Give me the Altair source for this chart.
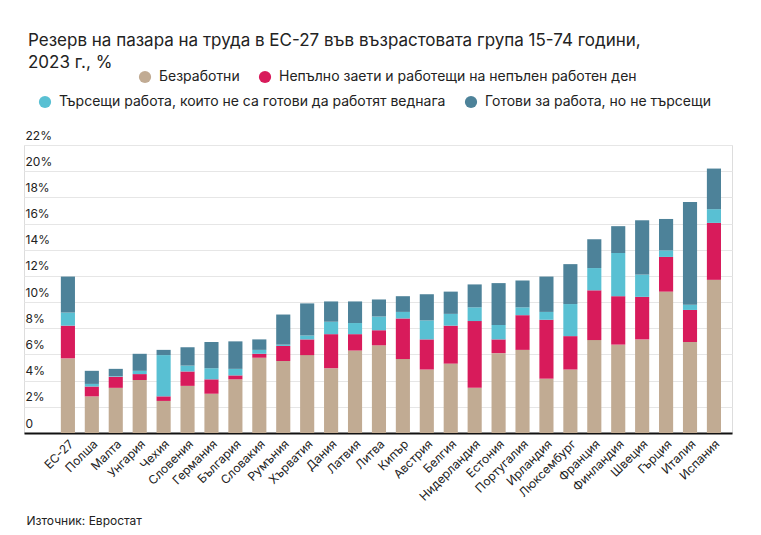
import altair as alt
import pandas as pd

countries = ["ЕС-27", "Полша", "Малта", "Унгария", "Чехия", "Словения", "Германия",
             "България", "Словакия", "Румъния", "Хърватия", "Дания", "Латвия", "Литва",
             "Кипър", "Австрия", "Белгия", "Нидерландия", "Естония", "Португалия",
             "Ирландия", "Люксембург", "Франция", "Финландия", "Швеция", "Гърция",
             "Италия", "Испания"]

unemployed = [5.7, 2.8, 3.45, 4.05, 2.45, 3.6, 3.0, 4.1, 5.75, 5.5, 5.95, 4.95, 6.3, 6.7,
              5.65, 4.85, 5.3, 3.45, 6.1, 6.35, 4.15, 4.85, 7.1, 6.75, 7.15, 10.8, 6.95, 11.7]
underemployed = [2.5, 0.75, 0.85, 0.45, 0.35, 1.1, 1.1, 0.3, 0.3, 1.15, 1.2, 2.6, 1.25, 1.15,
                 3.1, 2.3, 2.9, 5.1, 1.05, 2.65, 4.5, 2.55, 3.8, 3.7, 3.25, 2.65, 2.45, 4.35]
seeking_not_avail = [1.0, 0.2, 0.05, 0.25, 3.15, 0.45, 0.85, 0.5, 0.3, 0.1, 0.3, 0.95, 0.85, 1.05,
                     0.5, 1.45, 0.9, 1.05, 1.1, 0.6, 0.6, 2.45, 1.7, 3.3, 1.7, 0.5, 0.4, 1.05]
avail_not_seeking = [2.75, 1.0, 0.55, 1.3, 0.4, 1.4, 2.0, 2.1, 0.8, 2.3, 2.45, 1.55, 1.65, 1.3,
                     1.2, 2.0, 1.7, 1.75, 3.2, 2.05, 2.7, 3.05, 2.2, 2.05, 4.15, 2.4, 7.85, 3.1]

series_names = ["Безработни",
                "Непълно заети и работещи на непълен работен ден",
                "Търсещи работа, които не са готови да работят веднага",
                "Готови за работа, но не търсещи"]
series_colors = ["#c1ab93", "#d81b5b", "#59c0d3", "#4d8299"]
y_ticks = list(range(0, 23, 2))

rows = []
for i, c in enumerate(countries):
    base = 0.0
    for s, vals in zip(series_names, [unemployed, underemployed, seeking_not_avail, avail_not_seeking]):
        v = vals[i]
        rows.append({"country": c, "series": s, "y0": base, "y1": base + v, "value": v})
        base += v
df = pd.DataFrame(rows)

FONT = "Inter"

x_enc = alt.X("country:N", sort=countries,
              scale=alt.Scale(paddingInner=0.41, paddingOuter=1.0, align=0.77),
              axis=alt.Axis(title="Източник: Евростат", titleAnchor="start", titleAlign="left",
                            titleX=2, titleY=82, titleFontSize=12, titleFontWeight="normal",
                            titleColor="#222", titleFont=FONT,
                            labelAngle=-45, labelFontSize=12, labelColor="#222", labelFont=FONT,
                            ticks=False, labelPadding=5, domainColor="#111", domainWidth=2))
y_enc = alt.Y("y0:Q", scale=alt.Scale(domain=[0, 22], nice=False),
              axis=alt.Axis(title=None, values=y_ticks, domain=False, ticks=False, tickSize=0,
                            labelAlign="left", labelBaseline="bottom", labelPadding=-1,
                            labelOffset=-3, labelFontSize=12, labelColor="#222", labelFont=FONT,
                            gridColor="#e6e6e6", gridWidth=1,
                            labelExpr="datum.value == 0 ? '0' : datum.value + '%'"))

def legend(x, y):
    return alt.Legend(title=None, orient="none", legendX=x, legendY=y, direction="horizontal",
                      symbolType="circle", symbolSize=150, symbolStrokeWidth=0, symbolOpacity=1,
                      labelFontSize=14, labelColor="#222", labelFont=FONT, labelOffset=7,
                      labelLimit=600, columnPadding=18)

layer_a = alt.Chart(df).transform_filter(
    alt.FieldOneOfPredicate(field="series", oneOf=series_names[:2])
).mark_bar().encode(
    x=x_enc, y=y_enc, y2="y1:Q",
    color=alt.Color("series:N", scale=alt.Scale(domain=series_names[:2], range=series_colors[:2]),
                    legend=legend(114, -75)),
)
layer_b = alt.Chart(df).transform_filter(
    alt.FieldOneOfPredicate(field="series", oneOf=series_names[2:])
).mark_bar().encode(
    x=x_enc, y=y_enc, y2="y1:Q",
    color=alt.Color("series:N", scale=alt.Scale(domain=series_names[2:], range=series_colors[2:]),
                    legend=legend(14, -50)),
)

chart = alt.layer(layer_a, layer_b).resolve_scale(color="independent").properties(
    width=708, height=288,
    autosize="none",
    padding={"left": 24, "top": 145, "right": 29, "bottom": 102},
    title=alt.TitleParams(
        text=["Резерв на пазара на труда в ЕС-27 във възрастовата група 15-74 години,", "2023 г., %"],
        anchor="start", frame="group", fontSize=17, font=FONT, fontWeight="normal",
        color="#222", lineHeight=22, offset=0, dx=4, dy=2),
).configure_view(stroke=None).configure(background="white")

chart.save("out.html", embed_options={"renderer": "svg", "actions": False})
